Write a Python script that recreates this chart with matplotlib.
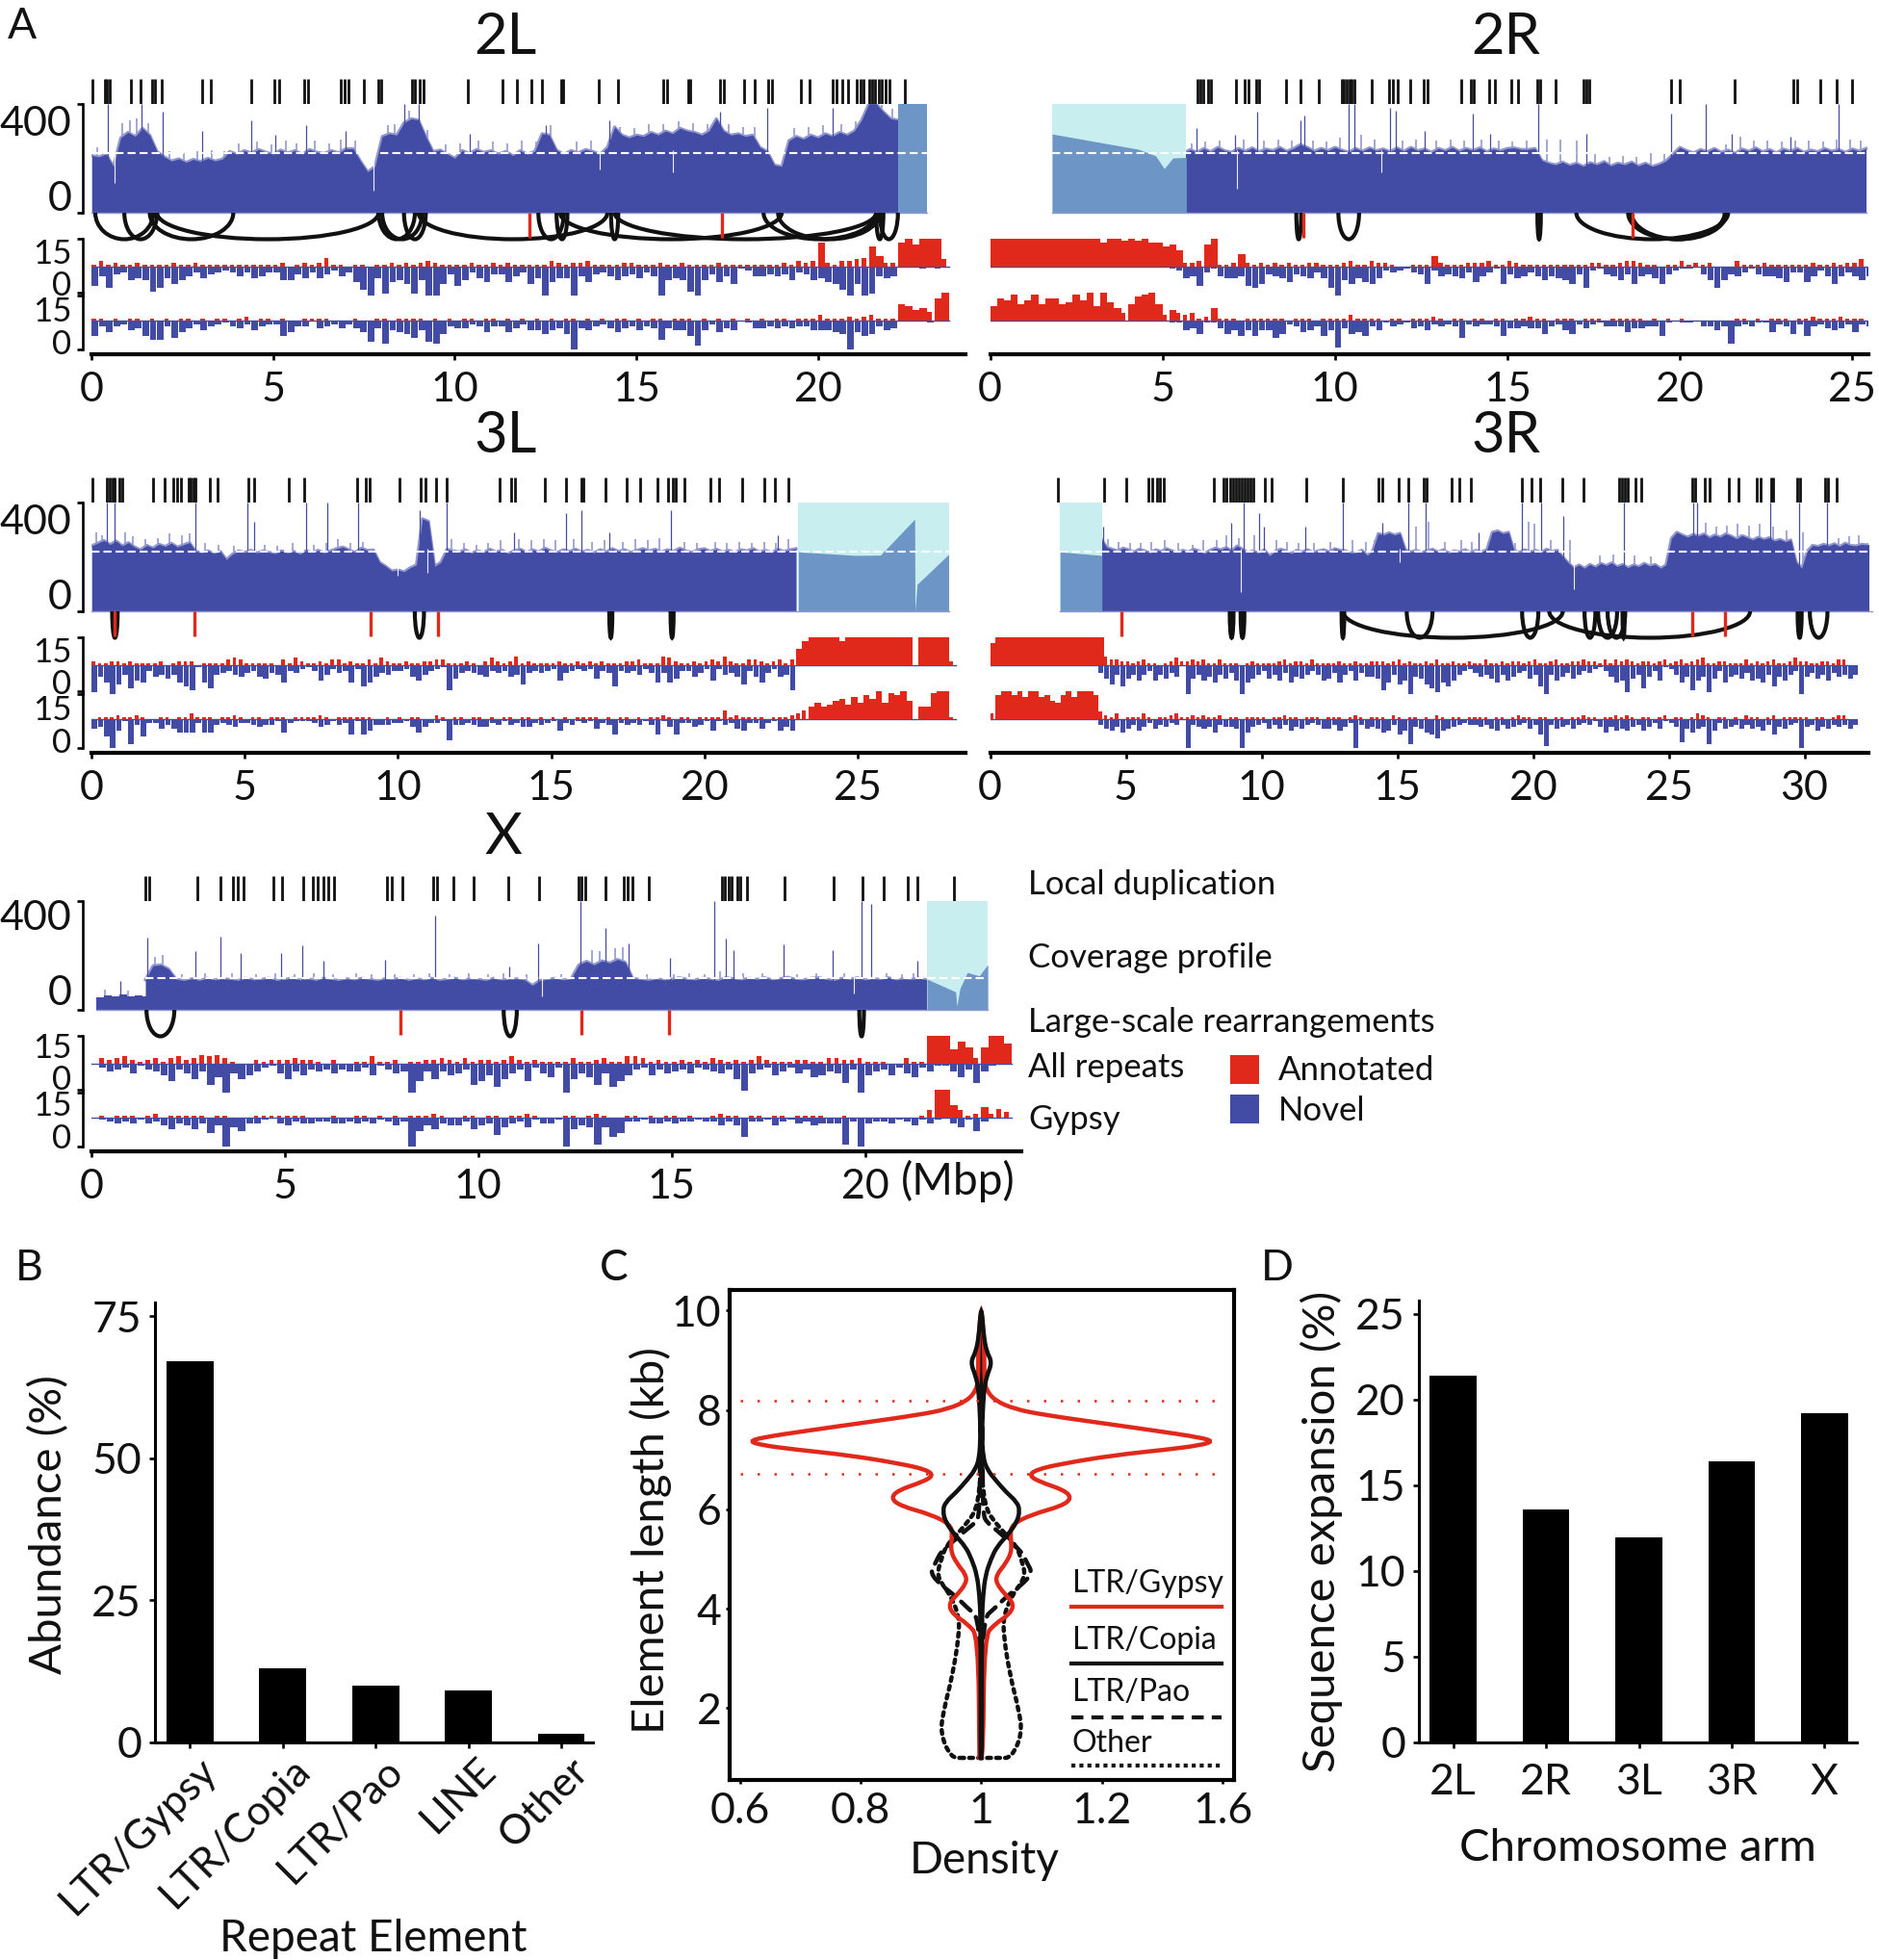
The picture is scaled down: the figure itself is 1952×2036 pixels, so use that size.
import matplotlib
matplotlib.use("Agg")
import matplotlib.pyplot as plt
from matplotlib.patches import Arc, PathPatch, Rectangle
from matplotlib.path import Path
from matplotlib.transforms import ScaledTranslation

plt.rcParams["font.family"] = ["Lato", "DejaVu Sans"]

W, H = 1952, 2036
BLUE = "#434ca5"
PALE = "#9298cf"
RED = "#e0291b"
STEEL = "#6d96c6"
CYAN = "#c8eef0"
INK = "#111111"
BIN = 0.2

# ---------- panel A, local duplications (Mbp)
DUP_2L = [.03, .36, .43, .49, 1.09, 1.34, 1.67, 1.75, 1.92, 3.03, 3.29, 4.39, 5.04, 5.16, 5.86, 5.96, 6.86, 6.96, 7.08, 7.49, 7.88, 7.98,
          8.82, 8.9, 9.04, 9.14, 10.35, 11.3, 11.71, 12.12, 12.41, 12.92, 12.99, 13.97, 14.49, 15.74, 15.85, 16.43, 16.49, 17.29, 17.41,
          17.97, 18.26, 18.64, 18.74, 19.54, 19.76, 20.39, 20.51, 20.68, 20.82, 21.07, 21.16, 21.24, 21.41, 21.5, 21.58, 21.67, 21.75, 21.87, 21.96, 22.4]
DUP_2R = [6.01, 6.11, 6.18, 6.31, 6.4, 7.12, 7.39, 7.49, 7.71, 7.79, 8.59, 9.01, 9.54, 10.19, 10.27, 10.35, 10.42, 10.49, 10.56, 11.08, 11.58,
          11.67, 11.83, 12.17, 12.58, 12.68, 13.67, 13.94, 14.02, 14.48, 14.65, 15.12, 15.32, 15.87, 15.94, 16.4, 17.2, 17.29, 17.37, 19.75, 19.99,
          21.6, 23.28, 23.4, 24.06, 24.54, 25.0]
DUP_3L = [.04, .51, .59, .67, .75, .91, 1.01, 2.02, 2.37, 2.65, 2.79, 2.93, 3.16, 3.24, 3.32, 3.4, 3.87, 4.11, 5.12, 5.32, 6.45, 6.94, 8.66, 8.96, 9.08,
          10.05, 10.74, 10.9, 11.25, 11.59, 13.31, 13.71, 13.81, 14.79, 15.49, 15.99, 16.05, 16.79, 17.46, 17.9, 18.47, 18.83, 18.97, 19.07, 19.34,
          20.19, 20.49, 21.24, 21.95, 22.31, 22.75]
DUP_3R = [2.51, 4.21, 5.02, 5.84, 5.97, 6.14, 6.27, 6.39, 8.26, 8.6, 8.71, 8.84, 8.95, 9.06, 9.16, 9.27, 9.38, 9.48, 9.59, 9.7, 10.11, 10.39, 11.65,
          12.98, 14.31, 14.44, 15.04, 15.41, 15.99, 16.09, 17.02, 17.28, 17.7, 19.59, 19.96, 20.28, 21.07, 21.85, 23.18, 23.28, 23.39, 23.5, 23.76, 23.99,
          25.86, 25.97, 26.33, 26.5, 27.21, 27.58, 28.26, 28.37, 28.76, 28.86, 29.72, 29.85, 30.75, 30.86, 31.18]
DUP_X = [1.4, 1.49, 2.74, 3.34, 3.67, 3.79, 3.93, 4.72, 4.93, 5.47, 5.72, 5.86, 6.0, 6.12, 6.28, 7.64, 7.78, 8.04, 8.83, 8.95, 9.35, 9.88, 10.79, 11.57,
         12.59, 12.67, 12.78, 13.3, 13.76, 13.86, 13.99, 14.42, 16.29, 16.38, 16.47, 16.56, 16.7, 16.78, 16.96, 17.92, 19.18, 19.93, 20.49, 21.1, 21.36, 22.29]

# ---------- coverage profile, one value every 0.2 Mbp
COV_2L = [210, 205, 215, 170, 275, 295, 280, 310, 285, 225,
          205, 190, 198, 185, 196, 188, 200, 190, 197, 225,
          215, 228, 220, 232, 222, 215, 230, 220, 228, 215,
          232, 222, 218, 228, 220, 235, 235, 190, 150, 170,
          280, 290, 285, 330, 345, 340, 280, 225, 230, 215,
          200, 228, 218, 232, 222, 228, 215, 225, 210, 228,
          215, 225, 290, 285, 230, 215, 228, 220, 232, 225,
          215, 240, 315, 285, 275, 285, 280, 295, 285, 300,
          290, 310, 300, 295, 285, 300, 345, 300, 285, 290,
          280, 285, 240, 225, 175, 170, 265, 280, 270, 285,
          275, 290, 280, 295, 285, 300, 340, 400, 400, 370, 345, 340]
COV_2R = [218, 232, 222, 236, 224, 240, 228, 222, 236, 226,
          238, 224, 234, 228, 240, 226, 236, 250, 240, 226,
          236, 228, 240, 230, 222, 236, 226, 238, 228, 234,
          224, 238, 226, 240, 228, 234, 222, 236, 228, 240,
          226, 236, 228, 238, 224, 234, 228, 236, 238, 232,
          232, 236, 192, 182, 176, 186, 174, 182, 170, 184,
          176, 188, 172, 182, 176, 186, 172, 182, 170, 178,
          190, 215, 240, 228, 220, 232, 224, 236, 222, 230,
          218, 234, 226, 238, 224, 232, 220, 234, 226, 236,
          222, 230, 224, 236, 226, 232, 222, 234, 226, 236]
COV_3L = [240, 250, 260, 245, 258, 240, 252, 236, 226, 242,
          232, 246, 238, 250, 236, 244, 252, 220, 215, 222,
          212, 220, 190, 210, 222, 216, 224, 214, 222, 216,
          212, 222, 214, 220, 210, 222, 216, 224, 214, 222,
          230, 236, 226, 216, 232, 224, 225, 180, 165, 148,
          152, 145, 160, 170, 340, 330, 165, 180, 228, 222,
          218, 226, 214, 222, 216, 228, 218, 224, 212, 222,
          228, 216, 226, 218, 232, 222, 216, 226, 220, 228,
          218, 224, 214, 226, 218, 230, 220, 226, 216, 224,
          230, 222, 228, 218, 226, 220, 232, 222, 216, 226,
          230, 220, 228, 218, 224, 216, 226, 222, 230, 218,
          224, 216, 228, 220, 226, 230]
COV_3R = [265, 235, 228, 222, 232, 226, 218, 228, 222, 214,
          226, 220, 230, 222, 216, 224, 218, 228, 222, 212,
          224, 232, 226, 234, 222, 240, 228, 216, 222, 212,
          226, 204, 220, 228, 222, 212, 224, 218, 226, 216,
          222, 226, 218, 230, 224, 222, 214, 216, 224, 205,
          224, 285, 280, 288, 280, 286, 226, 218, 224, 216,
          222, 228, 218, 226, 214, 222, 218, 226, 216, 224,
          218, 226, 290, 295, 285, 290, 224, 216, 226, 218,
          224, 216, 228, 220, 224, 200, 178, 160, 170, 158,
          172, 162, 176, 168, 178, 164, 172, 160, 170, 164,
          176, 166, 172, 158, 170, 268, 290, 280, 272, 282,
          276, 284, 270, 280, 272, 284, 276, 266, 278, 270,
          262, 272, 264, 270, 258, 264, 255, 262, 180, 158,
          220, 242, 238, 246, 240, 248, 238, 250, 242, 240, 246, 244, 248]
COV_HEAD_X = [45, 52, 50, 56, 50, 54, 48, 50]
COV_X = [110, 162, 165, 150, 112,
         108, 114, 108, 116, 110, 114, 112, 108, 116, 110, 112, 116, 108,
         112, 116, 110, 114, 108, 116, 112, 108, 114, 110, 116, 112, 108,
         114, 112, 116, 108, 114, 110, 116, 108, 112, 116, 110, 114, 112,
         108, 116, 110, 112, 114, 110, 90, 108, 112, 116, 110, 114, 165,
         178, 165, 180, 172, 185, 175, 115, 112, 108, 114, 110, 112, 118, 112, 110,
         116, 112, 108, 118, 114, 110, 116, 112, 118, 110, 114, 120, 112, 110, 116,
         118, 112, 108, 116, 112, 118, 110, 114, 112, 118, 110, 114, 112, 116, 110, 114, 112]

COV_START = {"2L": 0.0, "2R": 5.6, "3L": 0.0, "3R": 4.1, "X": 1.4}

SPIKE_2L = [(.44, 400), (1.38, 400), (1.95, 370), (3.03, 300), (4.4, 340), (5.05, 285), (5.9, 320), (7.0, 300), (8.6, 400), (9.0, 400), (10.4, 290),
            (12.5, 320), (14.25, 340), (17.3, 370), (18.6, 385), (20.4, 385), (21.3, 360)]
SPIKE_2R = [(6.0, 310), (7.1, 285), (7.75, 370), (9.0, 340), (9.1, 355), (10.4, 400), (10.55, 400), (11.6, 385), (11.75, 375), (12.6, 300), (14.0, 365),
            (14.5, 290), (15.9, 400), (17.3, 290), (19.75, 365), (20.75, 400), (21.5, 290), (23.2, 280), (24.6, 400)]
SPIKE_3L = [(.5, 400), (.75, 400), (3.4, 400), (5.1, 400), (5.3, 330), (7.0, 400), (7.7, 400), (8.7, 400), (10.7, 370), (11.6, 400), (13.8, 290),
            (15.5, 360), (16.0, 370), (16.9, 290), (18.9, 370), (22.4, 280)]
SPIKE_3R = [(4.15, 310), (8.9, 325), (9.35, 400), (9.9, 360), (10.1, 310), (11.6, 310), (12.98, 400), (14.45, 325), (15.4, 400), (16.05, 400), (18.0, 290),
            (19.6, 400), (20.3, 400), (21.1, 350), (23.35, 400), (25.9, 400), (26.05, 400), (28.75, 400), (29.8, 400), (30.85, 400)]
SPIKE_X = [(.75, 105), (1.45, 265), (2.7, 215), (3.35, 270), (3.87, 210), (4.9, 210), (5.45, 235), (6.0, 180), (7.6, 185), (8.9, 345), (10.8, 160), (11.55, 245),
           (12.65, 400), (13.3, 300), (13.9, 245), (14.95, 190), (16.1, 400), (16.4, 260), (16.6, 220), (17.9, 240), (19.15, 220), (19.9, 400), (20.15, 390), (21.35, 180)]
# short ragged peaks along the top edge of the profile
RAG_2L = [(.15, 240), (.85, 330), (1.05, 340), (1.25, 345), (1.55, 330), (2.15, 225), (2.55, 220), (2.9, 225), (3.3, 230), (3.65, 225), (4.05, 255), (4.55, 260), (4.95, 250),
          (5.35, 265), (5.65, 255), (6.15, 265), (6.55, 255), (6.85, 270), (7.25, 265), (8.15, 320), (8.35, 325), (8.75, 375), (9.25, 305), (9.75, 250), (10.15, 255), (10.65, 265),
          (11.05, 260), (11.45, 255), (11.85, 265), (12.25, 260), (12.65, 320), (13.35, 260), (13.75, 265), (14.55, 315), (14.95, 310), (15.35, 325), (15.75, 325), (16.15, 335),
          (16.55, 330), (16.95, 325), (17.55, 325), (17.95, 315), (18.25, 315), (19.35, 310), (19.75, 315), (20.15, 320), (20.65, 325), (21.05, 335), (21.75, 395), (22.05, 380)]
RAG_2R = [(5.85, 255), (6.25, 260), (6.65, 265), (7.35, 270), (7.95, 265), (8.35, 270), (8.75, 265), (9.35, 265), (9.75, 260), (10.15, 275), (10.75, 285), (11.15, 270), (11.95, 265),
          (12.35, 270), (12.95, 265), (13.35, 270), (13.75, 265), (14.25, 270), (14.75, 265), (15.15, 260), (15.55, 265), (16.15, 270), (16.55, 270), (17.0, 265), (17.55, 215),
          (17.95, 205), (18.35, 210), (18.75, 205), (19.15, 220), (19.55, 215), (19.95, 220), (20.35, 215), (20.95, 210), (21.35, 250), (21.75, 280), (22.15, 265), (22.55, 265),
          (22.95, 260), (23.35, 265), (23.75, 265), (24.15, 260), (24.55, 270), (24.95, 270), (25.25, 265)]
RAG_3L = [(.15, 290), (.35, 280), (1.1, 290), (1.35, 275), (1.75, 265), (2.15, 270), (2.55, 285), (2.95, 280), (3.2, 285), (3.7, 250), (4.15, 245), (4.65, 240), (5.65, 245), (6.05, 240), (6.55, 250),
          (7.25, 245), (7.65, 250), (8.05, 265), (8.45, 250), (8.85, 255), (11.75, 265), (12.15, 250), (12.55, 245), (12.95, 250), (13.35, 260), (13.95, 265), (14.35, 260), (14.75, 265),
          (15.15, 260), (15.75, 265), (16.35, 255), (16.75, 260), (17.35, 255), (17.75, 265), (18.15, 260), (18.55, 270), (19.35, 255), (19.75, 250), (20.35, 255), (20.75, 250),
          (21.15, 255), (21.55, 250), (21.95, 255), (22.35, 250), (22.75, 265)]
RAG_3R = [(4.35, 265), (4.75, 255), (5.15, 250), (5.55, 250), (5.95, 255), (6.45, 260), (6.95, 250), (7.45, 245), (7.85, 260), (8.35, 260), (8.7, 280), (9.15, 270), (9.75, 280), (10.55, 260),
          (10.95, 255), (11.35, 250), (11.95, 250), (12.55, 255), (13.35, 260), (13.85, 255), (14.15, 260), (14.75, 265), (15.15, 250), (15.7, 310), (16.15, 330), (16.75, 255), (17.35, 260),
          (17.75, 255), (18.35, 255), (18.75, 260), (19.35, 250), (19.85, 330), (20.05, 320), (20.65, 260), (21.35, 260), (22.45, 205), (22.95, 210), (23.75, 205), (24.35, 200), (24.95, 205),
          (25.45, 210), (26.35, 325), (26.75, 310), (27.15, 315), (27.55, 320), (27.95, 315), (28.35, 320), (28.85, 310), (29.35, 295), (29.95, 290), (31.25, 270), (31.65, 275), (32.0, 280)]
RAG_X = [(.35, 75), (.95, 70), (1.65, 195), (1.85, 200), (2.35, 130), (2.95, 135), (3.65, 135), (4.25, 130), (4.75, 135), (5.25, 130), (5.75, 135), (6.25, 130), (6.85, 135), (7.25, 130), (7.85, 130),
         (8.35, 130), (8.75, 135), (9.25, 130), (9.75, 135), (10.25, 130), (10.65, 135), (11.25, 130), (12.15, 130), (12.95, 220), (13.15, 215), (13.55, 225), (13.75, 230), (14.35, 130), (15.05, 130),
         (15.45, 135), (15.85, 130), (16.25, 140), (16.85, 135), (17.35, 135), (18.25, 130), (18.75, 135), (19.45, 135), (20.55, 135), (20.95, 130), (21.25, 135)]
DIP_2L = [(.63, 110), (7.75, 80), (14, 160), (16.0, 150)]
DIP_2R = [(7.15, 90), (11.35, 150)]
DIP_3L = [(10.0, 130), (10.95, 140)]
DIP_3R = [(9.25, 70), (21.5, 80), (15.1, 180)]
DIP_X = [(11.65, 50), (19.7, 60)]

# assembled regions that only exist in the annotated genome (Mbp, coverage)
GAP_2L_X, GAP_2L_Y = [22.2, 23.0], [400, 400]
GAP_2R_X, GAP_2R_Y = [1.8, 4.3, 4.8, 5.05, 5.3, 5.69], [289, 233, 209, 162, 201, 203]
GAP_3L_X, GAP_3L_Y = [23.07, 24.95, 25.75, 26.87, 26.88, 26.95, 27.98], [218, 205, 206, 338, 0, 99, 209]
GAP_3R_X, GAP_3R_Y = [2.58, 4.12], [218, 205]
GAP_X_X, GAP_X_Y = [21.6, 22.34, 22.37, 22.45, 22.64, 22.95, 23.17], [113, 66, 13, 78, 137, 125, 166]

# ---------- large scale rearrangements: arcs (start, end) and red breakpoints
ARC_2L = [(.1, 1.7), (.9, 1.8), (1.6, 3.9), (1.8, 7.9), (7.9, 8.9), (8.0, 9.1), (8.6, 9.2), (9.0, 14.2), (12.3, 13.0), (12.8, 13.1), (14.3, 14.5),
          (12.9, 19.0), (14.4, 21.6), (18.5, 21.6), (18.9, 21.7), (21.6, 21.8), (21.7, 22.2)]
ARC_2R = [(8.88, 9.02), (10.1, 10.7), (15.87, 15.97), (17.0, 21.4), (18.5, 21.3), (18.6, 21.35)]
ARC_3L = [(.67, .85), (10.55, 10.85), (16.9, 17.0), (18.9, 19.0)]
ARC_3R = [(8.83, 8.97), (9.23, 9.37), (12.95, 13.05), (13.0, 21.1), (15.35, 16.3), (19.6, 20.2), (20.6, 28.0), (21.9, 22.3), (22.4, 23.1), (22.75, 23.4),
          (23.3, 23.38), (29.75, 29.9), (30.2, 30.85)]
ARC_X = [(1.43, 2.15), (10.66, 11.0), (19.85, 19.97)]
BREAK_2L = [12.05, 17.35]
BREAK_2R = [9.09, 18.64]
BREAK_3L = [.75, 3.36, 9.1, 11.3]
BREAK_3R = [4.85, 25.88, 27.08]
BREAK_X = [8.0, 12.67, 14.93]

# ---------- repeats per 0.2 Mbp: novel (below the line) and annotated (above)
NOVEL_ALL_2L = [10, 5, 11, 4, 3, 7, 6, 7, 13, 11, 6, 9, 7, 5, 3, 6, 4, 3, 2, 3,
                5, 3, 6, 5, 3, 3, 7, 7, 4, 6, 3, 6, 4, 2, 5, 3, 8, 12, 15, 6,
                14, 8, 7, 9, 14, 7, 15, 15, 9, 4, 10, 7, 3, 6, 8, 4, 4, 8, 5, 3,
                9, 6, 15, 8, 6, 6, 15, 5, 8, 4, 3, 5, 7, 5, 4, 6, 3, 5, 15, 7,
                6, 7, 13, 15, 7, 4, 8, 5, 9, 1, 2, 5, 5, 4, 5, 4, 7, 3, 4, 7,
                6, 8, 9, 12, 15, 9, 15, 14, 5, 6, 5, 0, 0, 0, 1, 0, 1, 0]
ANNOT_ALL_2L = [1, 3, 1, 2, 1, 1, 2, 1, 1, 1, 1, 2, 1, 1, 2, 1, 1, 1, 1, 1,
                1, 1, 1, 1, 1, 1, 2, 0, 1, 2, 1, 2, 5, 1, 1, 0, 1, 1, 0, 1,
                1, 2, 1, 2, 1, 2, 3, 2, 1, 1, 1, 1, 2, 1, 1, 2, 1, 2, 1, 1,
                1, 1, 1, 3, 2, 1, 2, 2, 3, 1, 1, 1, 1, 2, 2, 1, 1, 1, 2, 1,
                1, 2, 1, 1, 1, 1, 2, 1, 1, 1, 1, 1, 1, 1, 1, 2, 1, 3, 2, 3,
                13, 2, 1, 3, 3, 4, 5, 11, 6, 2, 2, 13, 15, 12, 15, 15, 15, 4]
NOVEL_GYP_2L = [8, 3, 6, 3, 2, 5, 4, 8, 10, 10, 3, 9, 6, 4, 2, 5, 3, 2, 1, 3,
                4, 2, 5, 3, 2, 2, 8, 6, 3, 3, 0, 4, 3, 2, 4, 2, 4, 6, 11, 4,
                12, 5, 6, 7, 9, 5, 11, 12, 7, 3, 4, 4, 2, 3, 6, 3, 3, 6, 4, 2,
                5, 5, 7, 5, 4, 7, 15, 4, 5, 3, 2, 4, 6, 4, 3, 5, 3, 4, 10, 4,
                5, 5, 8, 13, 5, 2, 6, 4, 5, 0, 1, 4, 4, 3, 4, 3, 4, 3, 3, 5,
                5, 5, 6, 7, 15, 6, 8, 7, 3, 5, 4, 0, 0, 0, 0, 1, 0, 0]
ANNOT_GYP_2L = [1, 1, 0, 1, 0, 1, 1, 0, 1, 0, 1, 0, 1, 1, 0, 1, 0, 1, 1, 0,
                1, 2, 0, 1, 1, 0, 1, 0, 0, 1, 1, 1, 1, 0, 0, 0, 1, 0, 0, 1,
                1, 0, 1, 1, 1, 1, 0, 1, 0, 1, 0, 1, 1, 0, 1, 1, 0, 1, 0, 1,
                0, 1, 0, 1, 0, 1, 1, 0, 1, 0, 1, 0, 1, 1, 0, 1, 0, 1, 1, 0,
                1, 1, 1, 0, 1, 0, 1, 0, 1, 0, 1, 0, 1, 0, 1, 1, 0, 1, 1, 1,
                3, 1, 1, 1, 2, 1, 2, 3, 1, 1, 1, 9, 8, 6, 7, 5, 12, 15]

NOVEL_ALL_2R = [1, 2, 6, 5, 10, 3, 1, 5, 6, 6, 5, 10, 11, 9, 4, 5, 6, 8, 4, 5,
                6, 3, 6, 11, 15, 7, 9, 6, 8, 9, 6, 2, 3, 2, 1, 3, 4, 9, 2, 5,
                4, 5, 6, 3, 8, 5, 3, 1, 9, 4, 6, 5, 3, 5, 7, 5, 6, 7, 9, 4,
                11, 2, 1, 4, 5, 7, 4, 9, 5, 4, 6, 9, 4, 2, 1, 1, 0, 4, 7, 11,
                7, 4, 5, 3, 1, 4, 5, 5, 6, 8, 3, 3, 8, 5, 2, 5, 9, 5, 3, 5, 7, 5]
ANNOT_ALL_2R = [15, 15, 15, 15, 15, 15, 15, 15, 15, 15, 15, 15, 15, 15, 15, 15, 13, 15, 15, 14,
                15, 14, 15, 13, 13, 11, 12, 9, 2, 2, 3, 12, 15, 1, 1, 2, 7, 2, 1, 2,
                1, 2, 1, 2, 1, 1, 2, 2, 1, 1, 1, 2, 3, 1, 1, 3, 2, 2, 1, 0,
                0, 1, 1, 1, 6, 2, 1, 1, 1, 2, 2, 2, 3, 1, 1, 3, 2, 1, 1, 1,
                1, 1, 1, 1, 1, 1, 1, 2, 2, 1, 1, 2, 3, 3, 2, 1, 1, 0, 1, 1,
                3, 1, 2, 1, 2, 0, 0, 0, 3, 1, 1, 1, 2, 1, 1, 1, 1, 1, 1, 2,
                1, 1, 2, 1, 2, 2, 4]
NOVEL_GYP_2R = [1, 1, 5, 4, 7, 1, 1, 4, 7, 5, 8, 5, 8, 5, 5, 9, 7, 2, 3, 6,
                5, 3, 8, 5, 14, 4, 7, 6, 8, 3, 5, 1, 3, 2, 1, 4, 3, 5, 2, 3,
                2, 3, 9, 2, 3, 2, 2, 3, 8, 4, 4, 3, 4, 4, 7, 3, 2, 5, 7, 2,
                4, 2, 1, 3, 3, 3, 6, 4, 4, 3, 3, 8, 1, 0, 1, 1, 0, 3, 3, 5,
                3, 12, 3, 2, 3, 1, 1, 6, 2, 3, 7, 2, 8, 3, 2, 4, 5, 4, 2, 6, 2, 3]
ANNOT_GYP_2R = [8, 12, 11, 14, 9, 11, 14, 9, 12, 12, 9, 10, 14, 11, 15, 8, 15, 10, 7, 4,
                9, 13, 14, 15, 9, 3, 6, 4, 3, 4, 1, 2, 7, 1, 1, 1, 0, 1, 1, 1,
                1, 1, 1, 0, 1, 1, 1, 0, 1, 1, 1, 1, 3, 1, 1, 1, 1, 0, 1, 1,
                0, 1, 1, 1, 2, 1, 0, 1, 1, 0, 1, 1, 0, 1, 1, 0, 1, 1, 2, 1,
                1, 0, 1, 1, 1, 0, 1, 1, 1, 0, 1, 1, 1, 1, 1, 0, 1, 0, 1, 0,
                1, 0, 0, 0, 0, 0, 0, 0, 1, 1, 0, 1, 0, 1, 1, 1, 0, 1, 1, 2,
                1, 1, 1, 2, 1, 1, 1]

NOVEL_ALL_3L = [14, 6, 9, 15, 10, 5, 12, 8, 9, 3, 6, 5, 7, 5, 9, 11, 13, 1, 9, 12,
                5, 4, 3, 5, 6, 4, 3, 6, 7, 4, 5, 9, 3, 4, 2, 1, 3, 8, 5, 2,
                4, 3, 9, 2, 11, 9, 6, 4, 5, 3, 3, 2, 6, 8, 5, 3, 2, 1, 13, 7,
                4, 3, 4, 5, 6, 3, 4, 3, 6, 5, 10, 4, 3, 4, 3, 2, 8, 4, 3, 2,
                3, 2, 7, 3, 4, 11, 3, 4, 3, 5, 2, 4, 9, 4, 9, 7, 3, 3, 6, 4,
                2, 8, 2, 5, 4, 6, 10, 3, 6, 9, 4, 2, 6, 5, 13]
ANNOT_ALL_3L = [2, 1, 1, 2, 2, 1, 2, 1, 1, 1, 1, 2, 0, 1, 2, 2, 2, 0, 1, 1,
                1, 1, 3, 4, 3, 1, 1, 1, 1, 1, 0, 3, 1, 4, 2, 1, 1, 2, 1, 3,
                3, 1, 2, 1, 1, 3, 1, 4, 2, 1, 1, 2, 1, 1, 2, 2, 3, 3, 1, 1,
                1, 2, 1, 0, 2, 4, 2, 1, 2, 5, 1, 2, 1, 1, 1, 1, 2, 1, 1, 2,
                1, 2, 1, 2, 1, 1, 1, 2, 2, 3, 1, 1, 1, 5, 4, 2, 1, 1, 2, 1,
                2, 3, 2, 5, 2, 1, 1, 3, 3, 2, 1, 2, 3, 1, 3, 9, 13, 15, 15, 15,
                15, 15, 13, 15, 15, 15, 15, 15, 15, 15, 15, 15, 15, 15, 0, 15, 15, 15, 15, 15, 2]
NOVEL_GYP_3L = [5, 4, 9, 15, 6, 1, 13, 3, 9, 2, 2, 5, 3, 5, 7, 7, 7, 2, 7, 7,
                3, 2, 3, 4, 2, 2, 3, 4, 3, 3, 1, 7, 2, 1, 1, 1, 2, 4, 3, 1,
                3, 2, 8, 1, 8, 6, 3, 3, 3, 2, 2, 1, 4, 7, 4, 2, 2, 1, 11, 3,
                3, 2, 3, 4, 4, 2, 3, 1, 3, 2, 4, 4, 2, 3, 2, 1, 6, 2, 3, 1,
                2, 1, 5, 2, 3, 8, 2, 3, 2, 3, 1, 3, 8, 1, 4, 8, 2, 2, 4, 3,
                1, 6, 1, 3, 2, 5, 6, 2, 2, 5, 2, 1, 6, 4, 6]
ANNOT_GYP_3L = [0, 1, 1, 1, 2, 1, 1, 2, 1, 0, 0, 1, 1, 0, 1, 1, 3, 1, 1, 1,
                0, 1, 1, 2, 1, 0, 1, 1, 0, 1, 1, 1, 0, 1, 1, 1, 1, 2, 1, 0,
                1, 1, 1, 1, 1, 1, 0, 0, 1, 0, 1, 0, 1, 1, 0, 0, 2, 1, 0, 1,
                1, 0, 1, 1, 0, 1, 0, 1, 1, 0, 1, 1, 0, 1, 0, 1, 0, 1, 0, 1,
                1, 1, 1, 0, 1, 0, 1, 1, 0, 1, 0, 1, 1, 2, 1, 0, 1, 1, 0, 1,
                1, 1, 1, 5, 1, 2, 1, 1, 1, 1, 0, 1, 1, 1, 2, 3, 5, 7, 9, 7,
                8, 10, 11, 8, 12, 9, 13, 11, 15, 9, 14, 13, 15, 10, 0, 7, 7, 14, 15, 15, 1]

NOVEL_ALL_3R = [4, 7, 10, 5, 11, 7, 5, 8, 5, 3, 8, 5, 7, 4, 6, 0, 15, 7, 5, 8,
                6, 9, 5, 7, 4, 8, 15, 9, 7, 5, 3, 7, 5, 8, 4, 9, 6, 7, 5, 3,
                5, 8, 7, 4, 9, 5, 3, 8, 4, 6, 6, 7, 13, 9, 5, 10, 8, 15, 6, 7,
                10, 12, 14, 9, 11, 8, 5, 3, 2, 4, 6, 5, 7, 9, 5, 8, 6, 4, 3, 7,
                5, 11, 15, 5, 8, 6, 4, 7, 5, 3, 4, 2, 1, 3, 6, 9, 8, 14, 7, 5,
                12, 6, 3, 8, 1, 2, 5, 9, 6, 13, 8, 6, 14, 7, 3, 9, 6, 5, 7, 4,
                8, 7, 9, 5, 11, 6, 8, 5, 3, 15, 6, 4, 7, 5, 8, 4, 6, 5, 7, 5]
ANNOT_ALL_3R = [12, 15, 15, 15, 15, 15, 15, 15, 15, 15, 15, 15, 15, 15, 15, 15, 15, 15, 15, 15,
                15, 5, 3, 3, 2, 2, 1, 2, 3, 1, 1, 0, 1, 2, 4, 2, 2, 3, 2, 3,
                1, 1, 3, 1, 1, 1, 0, 1, 2, 1, 1, 1, 1, 2, 3, 1, 2, 2, 1, 3,
                1, 1, 1, 1, 2, 1, 1, 2, 1, 1, 2, 2, 2, 1, 2, 3, 1, 2, 1, 1,
                2, 1, 3, 1, 1, 2, 1, 1, 2, 1, 1, 3, 1, 1, 2, 1, 2, 2, 1, 2,
                3, 1, 1, 2, 3, 1, 1, 2, 2, 3, 2, 2, 1, 3, 1, 3, 2, 3, 2, 1,
                2, 2, 1, 2, 3, 1, 2, 3, 1, 2, 3, 4, 1, 1, 2, 2, 1, 1, 1, 3,
                1, 2, 1, 2, 3, 1, 1, 2, 4, 2, 2, 1, 1, 2, 2, 1, 3, 3]
NOVEL_GYP_3R = [3, 5, 6, 4, 7, 5, 3, 6, 4, 2, 5, 3, 4, 2, 3, 0, 15, 3, 4, 5,
                4, 7, 3, 4, 4, 5, 15, 7, 4, 3, 2, 5, 3, 5, 3, 6, 4, 5, 3, 2,
                3, 5, 5, 3, 6, 4, 2, 15, 3, 5, 4, 5, 7, 6, 3, 8, 6, 13, 4, 5,
                7, 8, 10, 6, 5, 4, 3, 2, 3, 3, 4, 3, 5, 6, 3, 5, 4, 3, 2, 5,
                3, 8, 14, 3, 5, 4, 3, 5, 3, 2, 3, 1, 4, 7, 4, 6, 5, 6, 4, 3,
                6, 4, 2, 5, 1, 2, 4, 12, 5, 7, 5, 4, 13, 6, 2, 5, 4, 3, 5, 3,
                5, 4, 6, 3, 8, 4, 5, 3, 2, 15, 4, 3, 6, 4, 5, 3, 4, 3, 5, 3]
ANNOT_GYP_3R = [3, 13, 15, 15, 13, 15, 12, 15, 15, 12, 13, 10, 9, 13, 15, 12, 15, 15, 15, 13,
                4, 2, 1, 3, 0, 1, 1, 1, 3, 1, 0, 1, 1, 2, 3, 1, 1, 2, 1, 2,
                1, 1, 2, 0, 1, 1, 0, 1, 1, 1, 1, 0, 1, 1, 2, 1, 1, 0, 1, 1,
                1, 0, 1, 1, 1, 0, 1, 2, 1, 0, 1, 1, 1, 0, 2, 1, 0, 1, 1, 0,
                1, 0, 2, 1, 0, 1, 1, 0, 1, 1, 1, 1, 0, 1, 1, 0, 1, 2, 1, 1,
                0, 1, 1, 0, 1, 1, 0, 1, 1, 2, 1, 1, 0, 1, 1, 2, 1, 2, 1, 0,
                1, 1, 0, 1, 2, 0, 1, 1, 0, 1, 3, 2, 1, 0, 1, 1, 0, 1, 0, 2,
                1, 1, 0, 1, 2, 0, 1, 1, 1, 1, 1, 0, 1, 1, 0, 1, 2, 2]

NOVEL_ALL_X = [2, 4, 3, 2, 5, 1, 3, 4, 6, 9, 3, 5, 8, 4, 11, 7, 15, 5, 8, 6,
               4, 2, 1, 5, 8, 4, 6, 3, 4, 3, 5, 3, 4, 4, 2, 6, 1, 3, 5, 4,
               15, 9, 4, 8, 4, 6, 5, 3, 11, 9, 6, 12, 8, 5, 3, 9, 2, 5, 7, 2,
               15, 8, 5, 7, 11, 5, 12, 9, 6, 3, 2, 6, 3, 5, 4, 3, 5, 2, 3, 4,
               5, 3, 8, 14, 5, 3, 2, 6, 4, 2, 5, 3, 7, 6, 4, 5, 10, 3, 15, 6,
               4, 3, 6, 2, 5, 7, 2, 4, 1, 1, 4, 7, 3, 10, 4, 1]
ANNOT_ALL_X = [0, 3, 2, 3, 4, 2, 1, 2, 3, 1, 3, 4, 2, 3, 5, 4, 5, 3, 1, 0,
               0, 2, 1, 2, 2, 2, 3, 2, 2, 1, 0, 2, 0, 0, 1, 1, 4, 1, 1, 2,
               0, 1, 1, 2, 2, 3, 2, 1, 3, 1, 2, 2, 1, 2, 4, 2, 1, 2, 1, 1,
               1, 1, 3, 1, 1, 2, 3, 1, 1, 4, 4, 3, 1, 2, 1, 1, 2, 1, 2, 1,
               3, 2, 1, 2, 1, 2, 4, 2, 1, 1, 1, 2, 2, 1, 1, 3, 3, 2, 2, 3,
               1, 1, 1, 0, 0, 3, 1, 1, 15, 15, 15, 8, 12, 9, 3, 9, 15, 15, 11]
NOVEL_GYP_X = [1, 2, 3, 2, 3, 1, 3, 2, 4, 6, 3, 4, 6, 3, 8, 4, 15, 5, 7, 3,
               3, 1, 0, 3, 4, 2, 3, 3, 2, 2, 3, 3, 2, 3, 2, 3, 1, 2, 4, 2,
               15, 7, 4, 6, 3, 4, 4, 2, 6, 4, 3, 9, 5, 3, 2, 5, 1, 3, 3, 1,
               15, 6, 4, 5, 14, 5, 10, 8, 2, 2, 1, 3, 3, 2, 3, 2, 2, 1, 2, 2,
               4, 2, 4, 10, 2, 2, 1, 4, 2, 1, 3, 2, 4, 3, 3, 3, 14, 2, 15, 3,
               2, 2, 3, 1, 2, 4, 1, 3, 1, 0, 3, 5, 1, 7, 2, 0]
ANNOT_GYP_X = [0, 1, 0, 1, 1, 1, 0, 1, 2, 0, 1, 1, 1, 1, 1, 0, 1, 1, 0, 0,
               0, 1, 1, 1, 1, 1, 1, 1, 0, 0, 0, 1, 0, 0, 1, 1, 0, 1, 0, 1,
               0, 1, 1, 1, 2, 1, 0, 0, 1, 1, 0, 1, 1, 0, 1, 1, 2, 1, 0, 0,
               0, 1, 1, 0, 1, 2, 1, 0, 0, 1, 1, 0, 1, 0, 1, 1, 0, 1, 0, 0,
               1, 2, 1, 1, 0, 1, 1, 0, 1, 1, 0, 1, 1, 1, 1, 0, 0, 1, 0, 0,
               0, 0, 0, 0, 0, 0, 0, 1, 4, 15, 15, 7, 4, 1, 2, 6, 2, 5, 3]

NOVEL_START = {"2L": 0.0, "2R": 5.2, "3L": 0.0, "3R": 4.0, "X": 0.2}
ARM_TICKS = {"2L": [0, 5, 10, 15, 20], "2R": [0, 5, 10, 15, 20, 25], "3L": [0, 5, 10, 15, 20, 25],
             "3R": [0, 5, 10, 15, 20, 25, 30], "X": [0, 5, 10, 15, 20]}

# panel B
REPEAT_NAMES = ["LTR/Gypsy", "LTR/Copia", "LTR/Pao", "LINE", "Other"]
ABUNDANCE = [67, 13, 10, 9.2, 1.5]
# panel D
ARM_NAMES = ["2L", "2R", "3L", "3R", "X"]
EXPANSION = [21.4, 13.56, 11.95, 16.4, 19.17]
# panel C: half widths of the violins per element length (kb)
GYPSY_KB = [1.0, 3.45, 3.7, 3.9, 4.1, 4.27, 4.51, 4.68, 4.92, 5.17, 5.49, 5.7, 5.9, 6.07, 6.23, 6.39, 6.55, 6.68, 6.8, 6.92, 7.09, 7.21, 7.29, 7.37,
            7.45, 7.58, 7.74, 7.9, 8.02, 8.19, 8.39, 8.6, 9.33, 9.98]
GYPSY_HW = [.003, .005, .023, .048, .054, .041, .025, .025, .041, .051, .048, .051, .084, .134, .15, .137, .098, .079, .091, .134, .219, .312, .362, .385,
            .362, .291, .198, .105, .055, .023, .009, .005, .005, .001]
COPIA_KB = [1.0, 3.78, 4.27, 4.68, 5.0, 5.25, 5.49, 5.74, 5.98, 6.15, 6.35, 6.6, 6.8, 7.04, 7.53, 8.11, 8.43, 8.68, 8.96, 9.17, 9.49, 9.98]
COPIA_HW = [.001, .001, .003, .007, .016, .026, .044, .059, .064, .059, .041, .023, .01, .003, .001, .003, .005, .009, .018, .009, .004, .001]
PAO_KB = [1.0, 3.78, 4.02, 4.27, 4.47, 4.72, 4.92, 5.17, 5.41, 5.58, 5.74, 5.9, 7.0, 9.98]
PAO_HW = [.001, .001, .023, .044, .066, .085, .076, .066, .041, .026, .009, .003, .002, .001]
OTHER_KB = [1.0, 1.0, 1.49, 1.98, 2.64, 3.45, 3.86, 4.27, 4.51, 4.72, 5.0, 5.25, 5.49, 5.74, 5.98, 6.39, 6.8, 8.0, 9.98]
OTHER_HW = [.03, .05, .068, .062, .048, .037, .037, .051, .066, .073, .066, .059, .041, .023, .009, .003, .001, .001, .001]
CUT_KB = [8.19, 6.71]
DENSITY_TICKS = [0.6, 0.8, 1.0, 1.2, 1.4]
DENSITY_LABELS = ["0.6", "0.8", "1", "1.2", "1.6"]


def px_axes(fig, x0, y0, x1, y1):
    return fig.add_axes([x0 / W, 1 - y1 / H, (x1 - x0) / W, (y1 - y0) / H])


def ftext(fig, x, y, s, **kw):
    kw.setdefault("ha", "center")
    kw.setdefault("va", "center")
    kw.setdefault("color", INK)
    return fig.text(x / W, 1 - y / H, s, **kw)


def left_axis(ax, ticks):
    ax.spines["left"].set_visible(True)
    ax.spines["left"].set_position(("outward", 6.5))
    ax.spines["left"].set_linewidth(1.9)
    ax.set_yticks(ticks, ["", ""])
    ax.tick_params(axis="y", length=4.3, width=1.9)


def repeat_track(ax, xlim, start, novel, annot, with_axis):
    for s in ax.spines.values():
        s.set_visible(False)
    ax.set_xlim(xlim)
    ax.set_ylim(-15, 15)
    ax.patch.set_alpha(0)
    ax.axhline(0, xmin=0, xmax=(len(annot) * BIN - xlim[0]) / (xlim[1] - xlim[0]), color=BLUE, lw=1, zorder=0.5)
    ax.bar([start + i * BIN for i in range(len(novel))], [-v for v in novel], width=0.18, align="edge", color=BLUE, lw=0)
    ax.bar([i * BIN for i in range(len(annot))], annot, width=[BIN if v >= 6 else 0.12 for v in annot], align="edge", color=RED, lw=0)
    ax.set_xticks([])
    if with_axis:
        left_axis(ax, [-15, 15])
    else:
        ax.set_yticks([])


def draw_arm(fig, name, x0, ppm, x1, dy, dup, cov, spikes, rag, dips, gap_x, gap_y, arcs, breaks, tracks, dash, with_axis):
    xlim = (0, (x1 - x0) / ppm)
    cov_top, cov_bot = 107.7 + dy, 221 + dy

    ax = px_axes(fig, x0, 81.7 + dy, x1, cov_top)
    ax.axis("off")
    ax.set_xlim(xlim)
    ax.set_ylim(0, 1)
    ax.vlines(dup, 0, 1, color=INK, lw=2.0)

    ax = px_axes(fig, x0, cov_top, x1, cov_bot)
    for s in ax.spines.values():
        s.set_visible(False)
    ax.set_xlim(xlim)
    ax.set_ylim(0, 400)
    ax.set_xticks([])
    ax.patch.set_alpha(0)
    start = COV_START[name]
    xs = [start + i * BIN for i in range(len(cov))]
    if name == "X":
        head = [i * BIN + 0.13 for i in range(len(COV_HEAD_X))]
        ax.fill_between(head, 0, COV_HEAD_X, step="post", color=BLUE, lw=0, zorder=1)
    ax.plot(xs, cov, color=PALE, lw=2.2, zorder=0.8)
    ax.fill_between(xs, 0, cov, color=BLUE, lw=0, zorder=1)
    ax.vlines([p[0] for p in rag], 0, [p[1] for p in rag], color=PALE, lw=1.2, zorder=0.9)
    ax.vlines([p[0] for p in spikes], 0, [p[1] for p in spikes], color=BLUE, lw=0.9, zorder=0.95)
    ax.vlines([p[0] for p in dips], [p[1] for p in dips], 230, color="white", lw=0.8, alpha=0.9, zorder=1.2)
    ax.axvspan(gap_x[0], gap_x[-1], color=CYAN, lw=0, zorder=3)
    ax.fill_between(gap_x, 0, gap_y, color=STEEL, lw=0, zorder=4)
    end = gap_x[-1] if gap_x[0] > 10 else xs[-1]
    ax.hlines(dash, xs[0], end, color="white", lw=1.5, linestyle=(0, (4, 2)), zorder=5)
    if name in ("2R", "3R"):
        ax.hlines(dash, gap_x[0], gap_x[-1], color="white", lw=1.5, linestyle=(0, (4, 2)), zorder=5)
    ax.axhline(0, color=PALE, lw=1, clip_on=False, zorder=6,
               xmin=(min(gap_x[0], xs[0]) if name != "X" else 0.13) / xlim[1], xmax=max(gap_x[-1], xs[-1]) / xlim[1])
    if with_axis:
        left_axis(ax, [0, 400])
        d = dy if dy < 800 else 825
        ftext(fig, 74.5, 129 + d, "400", fontsize=31, ha="right")
        ftext(fig, 74.5, 207 + d, "0", fontsize=31, ha="right")
        ftext(fig, 74.5, 264 + d, "15", fontsize=25, ha="right")
        ftext(fig, 74.5, 297 + d, "0", fontsize=25, ha="right")
        ftext(fig, 74.5, 324 + d, "15", fontsize=25, ha="right")
        ftext(fig, 74.5, 358 + d, "0", fontsize=25, ha="right")
    else:
        ax.set_yticks([])

    ax = px_axes(fig, x0, cov_bot, x1, 248.5 + dy)
    ax.axis("off")
    ax.set_xlim(xlim)
    ax.set_ylim(-1, 0)
    for a, b in arcs:
        ax.add_patch(Arc(((a + b) / 2, 0), b - a, 2, theta1=180, theta2=360, color=INK, lw=3, clip_on=False))
    ax.vlines(breaks, -0.96, 0, color=RED, lw=2.4, zorder=5)

    (n1, a1, n2, a2) = tracks
    ax1 = px_axes(fig, x0, 248 + dy, x1, 306.6 + dy)
    repeat_track(ax1, xlim, NOVEL_START[name], n1, a1, with_axis)
    ax2 = px_axes(fig, x0, 304 + dy, x1, 362.6 + dy)
    repeat_track(ax2, xlim, NOVEL_START[name], n2, a2, with_axis)
    ax2.spines["bottom"].set_visible(True)
    ax2.spines["bottom"].set_position(("outward", 4.2))
    ax2.spines["bottom"].set_linewidth(3)
    ax2.set_xticks(ARM_TICKS[name])
    ax2.tick_params(axis="x", length=4.5, width=1.9, pad=8, labelsize=31, labelcolor=INK)


def bar_panel(fig, box, ylim, yticks, names, values, rotate):
    ax = px_axes(fig, *box)
    ax.bar(range(len(values)), values, width=0.505, color="black")
    ax.set_ylim(ylim)
    ax.set_yticks(yticks)
    ax.set_xticks(range(len(values)))
    for side in ("top", "right"):
        ax.spines[side].set_visible(False)
    for side in ("left", "bottom"):
        ax.spines[side].set_linewidth(2.2)
    ax.tick_params(axis="both", labelsize=32, width=1.9, length=4, labelcolor=INK)
    ax.tick_params(axis="y", pad=6)
    if rotate:
        ax.tick_params(axis="x", labelsize=31, pad=3)
        ax.set_xticklabels(names, rotation=45, ha="right", rotation_mode="anchor")
        for lab in ax.get_xticklabels():
            lab.set_transform(lab.get_transform() + ScaledTranslation(0.08, 0, fig.dpi_scale_trans))
    else:
        ax.set_xticklabels(names)
    return ax


def violin(ax, kb, hw, **kw):
    # quadratic curve through the midpoints, going up the left side and down the right
    pts = [(1 - w, k) for k, w in zip(kb, hw)] + [(1 + w, k) for k, w in reversed(list(zip(kb, hw)))]
    pts.append(pts[0])
    verts, codes = [pts[0]], [Path.MOVETO]
    for a, b in zip(pts[:-1], pts[1:]):
        verts += [a, ((a[0] + b[0]) / 2, (a[1] + b[1]) / 2)]
        codes += [Path.CURVE3, Path.CURVE3]
    verts.append(pts[-1])
    codes.append(Path.LINETO)
    ax.add_patch(PathPatch(Path(verts, codes), fill=False, capstyle="round", **kw))


fig = plt.figure(figsize=(W / 100, H / 100), dpi=100)

ftext(fig, 23, 28, "A", fontsize=32)
ftext(fig, 525, 39, "2L", fontsize=43)
ftext(fig, 1564, 39, "2R", fontsize=43)
ftext(fig, 525, 453, "3L", fontsize=43)
ftext(fig, 1564, 453, "3R", fontsize=43)
ftext(fig, 523, 870, "X", fontsize=43)

draw_arm(fig, "2L", 95.2, 37.73, 1003, 0, DUP_2L, COV_2L, SPIKE_2L, RAG_2L, DIP_2L, GAP_2L_X, GAP_2L_Y, ARC_2L, BREAK_2L,
         (NOVEL_ALL_2L, ANNOT_ALL_2L, NOVEL_GYP_2L, ANNOT_GYP_2L), 219, True)
draw_arm(fig, "2R", 1028.5, 35.83, 1941, 0, DUP_2R, COV_2R, SPIKE_2R, RAG_2R, DIP_2R, GAP_2R_X, GAP_2R_Y, ARC_2R, BREAK_2R,
         (NOVEL_ALL_2R, ANNOT_ALL_2R, NOVEL_GYP_2R, ANNOT_GYP_2R), 219, False)
draw_arm(fig, "3L", 95.2, 31.82, 1003, 414, DUP_3L, COV_3L, SPIKE_3L, RAG_3L, DIP_3L, GAP_3L_X, GAP_3L_Y, ARC_3L, BREAK_3L,
         (NOVEL_ALL_3L, ANNOT_ALL_3L, NOVEL_GYP_3L, ANNOT_GYP_3L), 219, True)
draw_arm(fig, "3R", 1028.5, 28.2, 1941, 414, DUP_3R, COV_3R, SPIKE_3R, RAG_3R, DIP_3R, GAP_3R_X, GAP_3R_Y, ARC_3R, BREAK_3R,
         (NOVEL_ALL_3R, ANNOT_ALL_3R, NOVEL_GYP_3R, ANNOT_GYP_3R), 219, False)
draw_arm(fig, "X", 94.7, 40.2, 1061, 828, DUP_X, COV_X, SPIKE_X, RAG_X, DIP_X, GAP_X_X, GAP_X_Y, ARC_X, BREAK_X,
         (NOVEL_ALL_X, ANNOT_ALL_X, NOVEL_GYP_X, ANNOT_GYP_X), 116, True)
ftext(fig, 936, 1227, "(Mbp)", fontsize=33, ha="left")

# key on the right of the X arm
for y, s in [(919, "Local duplication"), (995, "Coverage profile"), (1062, "Large-scale rearrangements"), (1109, "All repeats"), (1163, "Gypsy")]:
    ftext(fig, 1068, y, s, fontsize=25, ha="left")
fig.add_artist(Rectangle((1278 / W, 1 - 1126 / H), 30 / W, 30 / H, color=RED, lw=0, transform=fig.transFigure))
fig.add_artist(Rectangle((1278 / W, 1 - 1167 / H), 30 / W, 30 / H, color=BLUE, lw=0, transform=fig.transFigure))
ftext(fig, 1328, 1112, "Annotated", fontsize=25, ha="left")
ftext(fig, 1328, 1154, "Novel", fontsize=25, ha="left")

# panel B
ftext(fig, 30, 1317, "B", fontsize=32)
ax = bar_panel(fig, (161, 1353, 615.6, 1810), (0, 77.4), [0, 25, 50, 75], REPEAT_NAMES, ABUNDANCE, True)
ax.set_xlim(-0.378, 4.338)
ftext(fig, 388, 2014, "Repeat Element", fontsize=33)
ftext(fig, 51, 1584, "Abundance (%)", fontsize=34, rotation=90)

# panel C
ftext(fig, 638, 1317, "C", fontsize=32)
ax = px_axes(fig, 758.4, 1340, 1282, 1849)
ax.set_xlim(0.5836, 1.419)
ax.set_ylim(0.555, 10.416)
for s in ax.spines.values():
    s.set_linewidth(3)
ax.hlines(CUT_KB, 0.6, 1.41, color=RED, lw=1.8, linestyle=(0, (1, 6)))
violin(ax, OTHER_KB, OTHER_HW, edgecolor=INK, lw=3.2, linestyle=(0, (0.9, 1.2)))
violin(ax, PAO_KB, PAO_HW, edgecolor=INK, lw=3.2, linestyle=(0, (3, 2)))
violin(ax, GYPSY_KB, GYPSY_HW, edgecolor=RED, lw=3.2)
violin(ax, COPIA_KB, COPIA_HW, edgecolor=INK, lw=3.2)
ax.set_xticks(DENSITY_TICKS, DENSITY_LABELS)
ax.set_yticks([2, 4, 6, 8, 10])
ax.tick_params(axis="both", labelsize=32, length=3, width=1.9, labelcolor=INK)
ax.tick_params(axis="x", pad=6)
for y, ty, s, c, ls in [(4.04, 4.51, "LTR/Gypsy", RED, "-"), (2.89, 3.37, "LTR/Copia", INK, "-"),
                        (1.82, 2.31, "LTR/Pao", INK, (0, (3, 2))), (0.84, 1.29, "Other", INK, (0, (1, 1)))]:
    ax.plot([1.15, 1.398], [y, y], color=c, lw=3, linestyle=ls)
    ax.text(1.15, ty, s, fontsize=23, ha="left", va="center", color=INK)
ftext(fig, 1023, 1933, "Density", fontsize=33)
ftext(fig, 676, 1600, "Element length (kb)", fontsize=34, rotation=90)

# panel D
ftext(fig, 1327, 1317, "D", fontsize=32)
ax = bar_panel(fig, (1474, 1351, 1928.6, 1810), (0, 25.76), [0, 5, 10, 15, 20, 25], ARM_NAMES, EXPANSION, False)
ax.set_xlim(-0.37, 4.345)
ax.tick_params(axis="x", pad=11)
ftext(fig, 1701, 1920, "Chromosome arm", fontsize=34)
ftext(fig, 1373, 1591, "Sequence expansion (%)", fontsize=34, rotation=90)

fig.savefig("out.png", dpi=100)
